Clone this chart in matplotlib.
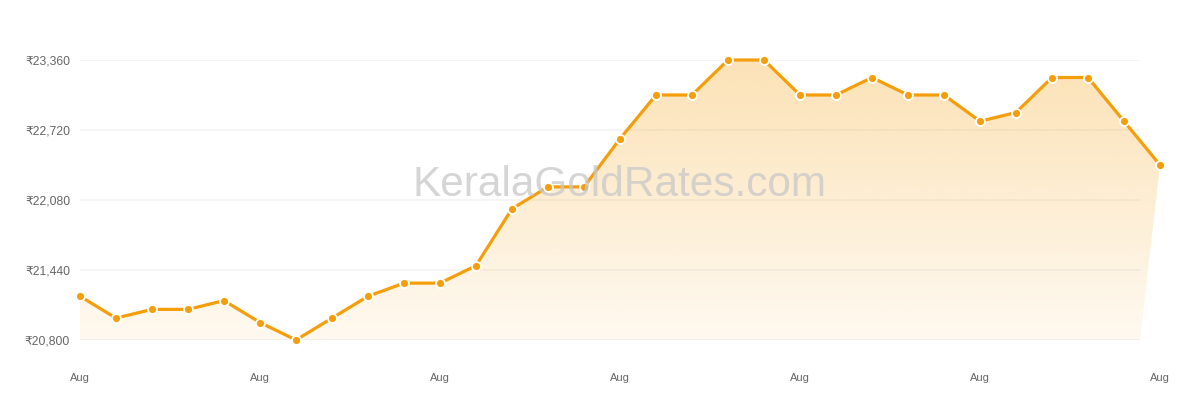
import matplotlib.pyplot as plt
import numpy as np
from matplotlib.patches import Polygon

plt.rcParams['font.family'] = ['Liberation Sans', 'DejaVu Sans']

# Kerala gold rate (8 g), August, one point per day
days = list(range(1, 32))
prices = [21200, 21000, 21080, 21080, 21160, 20960, 20800, 21000, 21200, 21320,
          21320, 21480, 22000, 22200, 22200, 22640, 23040, 23040, 23360, 23360,
          23040, 23040, 23200, 23040, 23040, 22800, 22880, 23200, 23200, 22800,
          22400]
y_ticks = [20800, 21440, 22080, 22720, 23360]
x_tick_days = [1, 6, 11, 16, 21, 26, 31]
x_tick_labels = ['Aug'] * len(x_tick_days)

line_col = '#F59E0B'

fig = plt.figure(figsize=(12, 4), dpi=100)
ax = fig.add_axes([80 / 1200, 0.15, 1080 / 1200, 0.70])

x = np.array(days)
y = np.array(prices)
ymin, ymax = y_ticks[0], y_ticks[-1]
# chart area ends a bit before the last day (grid + fill base stop there)
xright = x[-1] - 20 / 36.0

ax.hlines(y_ticks, x[0], xright, color='#f3f3f3', lw=1.2, zorder=0)

# gradient fill under the line
verts = list(zip(x, y)) + [(xright, ymin), (x[0], ymin)]
poly = Polygon(verts, closed=True, facecolor='none', edgecolor='none')
ax.add_patch(poly)
grad = np.zeros((256, 1, 4))
grad[..., 0] = 245 / 255
grad[..., 1] = 158 / 255
grad[..., 2] = 11 / 255
grad[:, 0, 3] = np.linspace(0.30, 0.06, 256)
im = ax.imshow(grad, extent=[x[0], x[-1], ymin, ymax], aspect='auto',
               origin='upper', zorder=1, interpolation='bilinear')
im.set_clip_path(poly)

ax.plot(x, y, color=line_col, lw=2.3, zorder=3, clip_on=False)
ax.scatter(x, y, s=42, color=line_col, edgecolors='white', linewidths=1.3,
           zorder=4, clip_on=False)

ax.set_yticks(y_ticks)
ax.set_yticklabels(['₹{:,}'.format(v) for v in y_ticks])
ax.set_xticks(x_tick_days)
ax.set_xticklabels(x_tick_labels)
ax.set_xlim(x[0], x[-1])
ax.set_ylim(ymin, ymax)
for s in ax.spines.values():
    s.set_visible(False)
ax.tick_params(axis='y', length=0, pad=7.2, labelsize=8.7, labelcolor='#666666')
ax.tick_params(axis='x', length=0, pad=24, labelsize=8, labelcolor='#666666')

ax.text(540 / 1080, 0.555, 'KeralaGoldRates.com', transform=ax.transAxes,
        ha='center', va='center', fontsize=30.5, color='#c8c8c8', alpha=0.75,
        zorder=5)

fig.savefig('out.png', dpi=100)
